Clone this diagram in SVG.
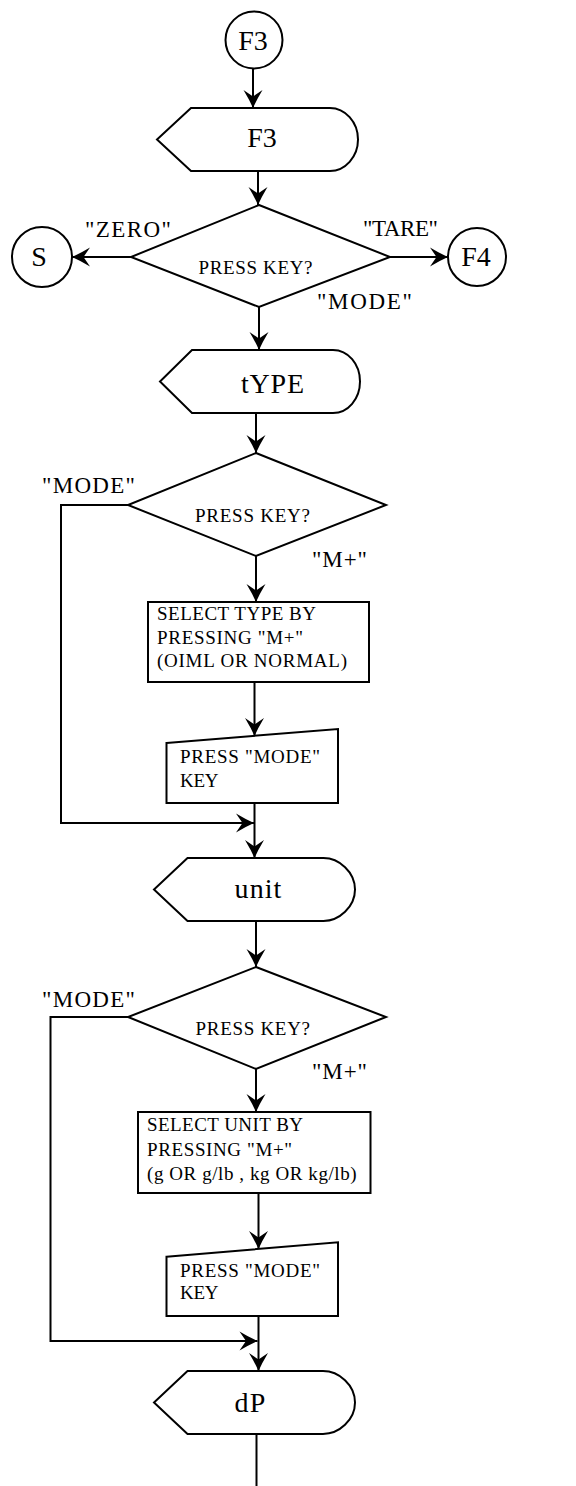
<svg xmlns="http://www.w3.org/2000/svg" width="576" height="1486" viewBox="0 0 576 1486">
<style>
.s{fill:#fff;stroke:#000;stroke-width:2;stroke-linejoin:miter}
.c{fill:none;stroke:#000;stroke-width:2}
.t{font-family:"Liberation Serif","Times New Roman",serif;fill:#000}
.big{font-size:28px}
.lab{font-size:23px}
.sm{font-size:19px}
</style>
<defs>
<marker id="ah" markerUnits="userSpaceOnUse" markerWidth="22" markerHeight="22" viewBox="-20 -11 22 22" refX="0" refY="0" orient="auto">
<path d="M0,0 Q-8,-3.5 -18,-9.5 L-11.5,0 L-18,9.5 Q-8,3.5 0,0 Z" fill="#000"/>
</marker>
</defs>
<rect width="576" height="1486" fill="#fff"/>
<g id="connectors">
<line class="c" x1="253" y1="69" x2="253" y2="108" marker-end="url(#ah)"/>
<line class="c" x1="258" y1="171" x2="258" y2="205" marker-end="url(#ah)"/>
<line class="c" x1="131" y1="257" x2="72" y2="257" marker-end="url(#ah)"/>
<line class="c" x1="390" y1="257" x2="448" y2="257" marker-end="url(#ah)"/>
<line class="c" x1="259" y1="307" x2="259" y2="350" marker-end="url(#ah)"/>
<line class="c" x1="256" y1="413" x2="256" y2="453" marker-end="url(#ah)"/>
<line class="c" x1="256" y1="556" x2="256" y2="602" marker-end="url(#ah)"/>
<line class="c" x1="254.5" y1="682" x2="254.5" y2="736" marker-end="url(#ah)"/>
<polyline class="c" points="128,505 61,505 61,823 254,823" marker-end="url(#ah)"/>
<line class="c" x1="254.5" y1="803" x2="254.5" y2="858" marker-end="url(#ah)"/>
<line class="c" x1="256" y1="921" x2="256" y2="967" marker-end="url(#ah)"/>
<line class="c" x1="256" y1="1069" x2="256" y2="1112" marker-end="url(#ah)"/>
<line class="c" x1="258.5" y1="1193" x2="258.5" y2="1249" marker-end="url(#ah)"/>
<polyline class="c" points="128,1017 50.5,1017 50.5,1341 257.5,1341" marker-end="url(#ah)"/>
<line class="c" x1="258.5" y1="1316" x2="258.5" y2="1371" marker-end="url(#ah)"/>
<line class="c" x1="256.5" y1="1434" x2="256.5" y2="1486"/>
</g>
<g id="n-f3-conn">
<circle class="s" cx="254" cy="40" r="28.5"/>
<text class="t big" x="253" y="49.5" text-anchor="middle">F3</text>
</g>
<g id="n-f3-disp">
<path class="s" d="M191,108 L330,108 C345,108 358,122 358,139.5 C358,157 345,171 330,171 L191,171 L157,139.5 Z"/>
<text class="t big" x="262" y="146.5" text-anchor="middle">F3</text>
</g>
<g id="n-dec1">
<polygon class="s" points="259,205 390,257 259,307 131,257"/>
<text class="t sm" x="198.5" y="274" textLength="114">PRESS KEY?</text>
<text class="t lab" x="85" y="237" textLength="86">"ZERO"</text>
<text class="t lab" x="363" y="236" textLength="75">"TARE"</text>
<text class="t lab" x="317" y="309" textLength="95">"MODE"</text>
</g>
<g id="n-s">
<circle class="s" cx="42" cy="257" r="30"/>
<text class="t big" x="39" y="266" text-anchor="middle">S</text>
</g>
<g id="n-f4">
<circle class="s" cx="477" cy="257" r="29"/>
<text class="t big" x="476" y="266" text-anchor="middle">F4</text>
</g>
<g id="n-type">
<path class="s" d="M192,350 L333,350 C348,350 360,364 360,381.5 C360,399 348,413 333,413 L192,413 L160,381.5 Z"/>
<text class="t big" x="241" y="393" textLength="63">tYPE</text>
</g>
<g id="n-dec2">
<polygon class="s" points="256,453 386,505 256,556 128,505"/>
<text class="t sm" x="195" y="522" textLength="115">PRESS KEY?</text>
<text class="t lab" x="42" y="493" textLength="93">"MODE"</text>
<text class="t lab" x="312" y="567" textLength="55">"M+"</text>
</g>
<g id="n-seltype">
<rect class="s" x="148" y="602" width="221" height="80"/>
<text class="t sm" x="157" y="620" textLength="159">SELECT TYPE BY</text>
<text class="t sm" x="157" y="644" textLength="146">PRESSING "M+"</text>
<text class="t sm" x="157" y="667" textLength="190">(OIML OR NORMAL)</text>
</g>
<g id="n-pm1">
<polygon class="s" points="166.5,743 338,729 338,803 166.5,803"/>
<text class="t sm" x="180" y="763" textLength="140">PRESS "MODE"</text>
<text class="t sm" x="180" y="787" textLength="38.6">KEY</text>
</g>
<g id="n-unit">
<path class="s" d="M187.5,858 L323.5,858 C339,858 355,872 355,889.5 C355,907 339,921 323.5,921 L187.5,921 L154,889.5 Z"/>
<text class="t big" x="234.6" y="898" textLength="46.7">unit</text>
</g>
<g id="n-dec3">
<polygon class="s" points="256,967 386,1017 256,1069 128,1017"/>
<text class="t sm" x="195.6" y="1035" textLength="114.4">PRESS KEY?</text>
<text class="t lab" x="42" y="1007" textLength="93">"MODE"</text>
<text class="t lab" x="312" y="1079" textLength="55">"M+"</text>
</g>
<g id="n-selunit">
<rect class="s" x="138" y="1112" width="232.5" height="81"/>
<text class="t sm" x="147" y="1131" textLength="156">SELECT UNIT BY</text>
<text class="t sm" x="147" y="1155.5" textLength="145">PRESSING "M+"</text>
<text class="t sm" x="147" y="1180" textLength="209.6">(g OR g/lb , kg OR kg/lb)</text>
</g>
<g id="n-pm2">
<polygon class="s" points="166.5,1256.7 338,1242.3 338,1316 166.5,1316"/>
<text class="t sm" x="180" y="1276.7" textLength="140">PRESS "MODE"</text>
<text class="t sm" x="180" y="1299.3" textLength="38.6">KEY</text>
</g>
<g id="n-dp">
<path class="s" d="M187.5,1371 L323,1371 C339,1371 355,1385 355,1402.5 C355,1420 339,1434 323,1434 L187.5,1434 L154,1402.5 Z"/>
<text class="t big" x="234.6" y="1411.7" textLength="30.8">dP</text>
</g>
</svg>
